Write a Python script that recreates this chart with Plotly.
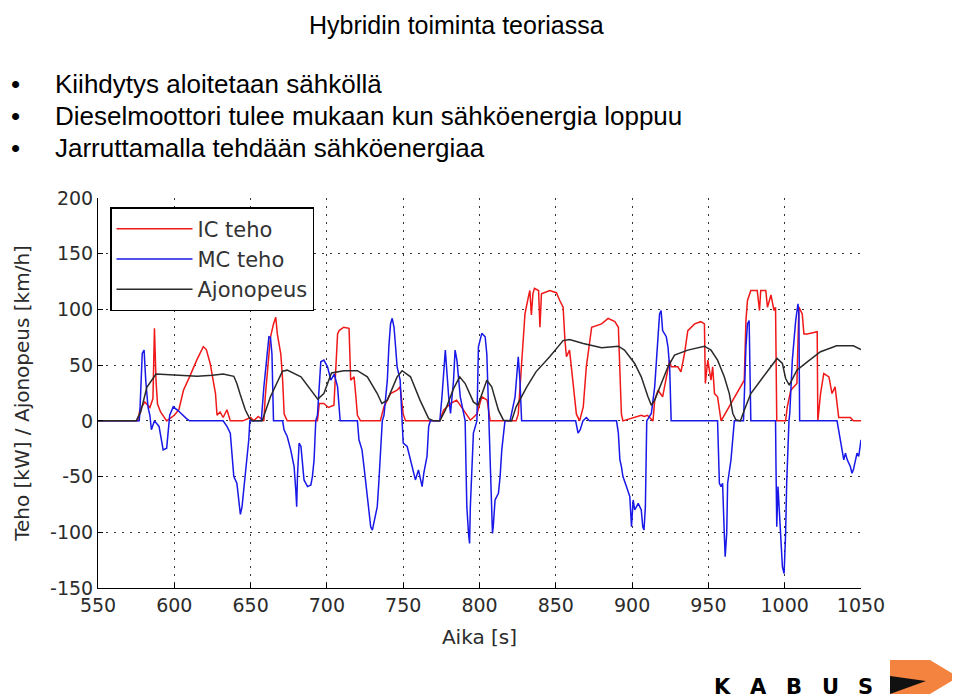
import plotly.graph_objects as go

# --- data (time in s) ---
t_ic = [550, 576, 577.4, 580.7, 584, 586, 587, 588, 589, 591, 595,
        600, 603, 606, 610, 614.7, 619, 621, 623.5, 625.7, 627, 628, 630, 632, 634.5, 636.7,
        645, 650, 652, 655, 658.7,
        659.6, 663, 665, 666.5, 667.5, 669.8, 671, 672, 674,
        693.8, 695, 698, 701, 704.6, 707, 708, 711, 714.5, 715.6, 717.8, 719, 720, 722,
        735, 737.4, 741.7, 746, 748, 750, 751.5,
        774, 776.5, 781, 785, 789.6, 794, 798.3, 801.5, 805, 807,
        824, 825.4, 827.6, 829.8, 832, 833, 834, 835, 836, 838.7, 839.6, 840.6, 846, 850.4,
        852.6, 854.8, 856, 857, 859, 861.3, 863.5, 865.6,
        868, 870, 873.5, 880, 884.3, 888.7, 891, 893, 894,
        906, 908, 910, 913.7,
        914.8, 917, 920, 924.6, 925.6, 930, 932, 934.3, 936.5, 941, 945, 947.4, 948, 949.6,
        951.7, 952.8, 954, 956, 958.3,
        973.5, 974.6, 975.6, 977.8, 979, 982, 983.5, 984.3, 987.6, 988.7, 991, 993, 994, 994.8,
        1000.6, 1001.7, 1004, 1008, 1009.3, 1011.5, 1012.6, 1014.8, 1021.3, 1021.7,
        1023.5, 1025.6, 1029, 1031, 1033, 1034.3, 1035.4, 1043, 1045, 1050]
ic_teho = [0, 0, 9.6, 17, 12, 20, 83, 36.5, 15, 8, 0,
           5, 10, 27.5, 39.5, 54.5, 66.5, 64, 51.5, 36.5, 24.5, 5, 8, 3, 10, 0,
           0, 3, 0, 4, 0,
           21.6, 75, 87, 93, 78, 60, 36.5, 6, 0,
           0, 15.6, 15.6, 12, 14, 78, 81, 84, 83, 36.5, 39.5, 21.6, 5, 0,
           0, 12.6, 24.5, 27.5, 30.5, 6, 0,
           0, 9.6, 15.6, 18.6, 9.6, 0.6, 6, 21.6, 18.6, 0,
           0, 6, 51.5, 96, 111, 117, 95, 114, 119, 117, 84, 114, 117, 115,
           108, 102, 72, 57.5, 63.5, 36.5, 6, 0,
           12.6, 48.5, 84, 87, 92, 89, 84, 6, 0,
           5, 4, 5, 0,
           18.6, 27.5, 21.6, 54.5, 48.5, 48.5, 44, 60, 81, 87, 89, 87, 33.5, 54.5,
           36.5, 48.5, 24.5, 21.6, 0,
           36.5, 90, 108, 117, 117, 117, 99, 117, 117, 102, 113, 99, 102, 0,
           0, 12.6, 27.5, 33.5, 102, 96, 78, 78, 80, 0,
           24.5, 42.5, 39.5, 24.5, 30.5, 12.6, 3, 3, 0, 0]

t_mc = [550, 577, 577.4, 579, 580.2, 581.3, 582.8, 584, 585, 587, 590, 591.6, 592.7, 595, 596, 597,
        599.3, 602.6, 608, 610,
        632, 634.5, 636.7, 637.8, 639, 641, 642.2, 643.3, 644.4, 645.5, 646.6, 647.7, 648.8, 649.5,
        657, 658.7, 661, 662, 663, 664, 665,
        671, 671.9, 674, 676.3, 678.5, 679.6, 680.2, 680.7, 681.8, 683, 684, 685, 687.3, 689.5,
        690.5, 691.6, 692.7,
        693.8, 696, 698, 700.4, 702.6, 704.8, 707, 708.7,
        720, 721, 723, 724.3, 725.4, 726.5, 727.6, 728.7, 729.8, 731, 733, 734, 735.2, 736.3,
        737.4, 739.6, 740.6, 741.7, 742.8, 744, 745, 746, 748, 749.3,
        750, 752.6, 754.8, 757, 758, 760, 762.4, 763.5, 765.6, 766.7, 767.8,
        774, 775.4, 777.6, 778.7, 779.8, 781, 783, 784, 785.2, 787.4, 789.6, 790.6,
        791.2, 791.7, 792.8, 793.5, 794, 795, 796, 798.3,
        799.3, 801.5, 803.7, 804.8, 806,
        806.5, 807.5, 808.5, 809, 810.2, 812.4, 813.5, 814.6, 815.7, 816.7,
        820, 821, 823.3, 825.4, 826.5, 827.6,
        863, 864.6, 866, 867.8, 870, 872,
        889.8, 891, 892, 893, 894, 896.3, 898.5, 899.6, 900.7, 901.7, 904, 906, 907, 907.8,
        908.7, 909.6,
        912.6, 914.8, 916.5, 918, 919, 920, 922.4, 923.5, 924.6, 925.6,
        956, 957.2, 958.3, 959.3, 960.4, 961, 962, 962.6, 964.8, 966, 967,
        973, 973.5, 974.6, 975.6, 976.7, 977.8,
        994, 994.3, 994.8, 995.6, 996.7, 997.4, 998.5, 999.6, 1000.6, 1001.3, 1002.2, 1002.8,
        1003.3, 1005, 1007.2, 1008.7, 1009.3, 1009.8,
        1034.3, 1035.4, 1037.6, 1038.7, 1039.8, 1041, 1043, 1044.1, 1045, 1046.3, 1047.4,
        1048.5, 1049.6, 1050]
mc_teho = [0, 0, 6.6, 60.5, 63.5, 36, 12, 5, -8, 0, -5, -20, -26, -24.5, -11, 5,
           12.6, 9, 2, 0,
           0, -5, -11, -32, -50, -56, -71, -84, -77, -62, -50, -29, -17, 0,
           0, 30.5, 60.5, 75.5, 75, 60, 0,
           0, -8, -14, -26, -41, -62, -77, -50, -20, -23, -41, -53, -59, -57.5,
           -50, -35, 0,
           5, 53, 54.5, 48.5, 36.5, 42, 30.5, 0,
           0, -17, -26, -41, -56, -71, -86, -95, -98, -89, -77, -56, -26, 0,
           5, 36.5, 66.5, 87, 92, 84, 66.5, 48.5, 36.5, 0,
           -20, -23, -35, -47, -53, -44, -59, -47, -32, -5, 0,
           0, 21.6, 63.5, 36.5, 21.6, 6.6, 36.5, 63.5, 54.5, 21.6, 6.6, 0,
           -44, -77, -101, -110, -77, -41, -11, 0,
           66.5, 78.5, 75.5, 60, 0,
           -17, -56, -101, -95, -71, -65, -50, -26, -11, 0,
           0, 6.6, 21.6, 57.5, 36.5, 0,
           0, -11, -8, 0, 3, 0,
           0, -11, -35, -41, -50, -59, -68, -95, -71, -80, -74, -80, -95, -98,
           -77, 0,
           6.6, 30.5, 66.5, 96, 99, 81, 75.5, 66.5, 48.5, 0,
           0, -56, -59, -56, -101, -122, -101, -56, -35, -11, 0,
           0, 21.6, 66.5, 87, 90, 0,
           0, -41, -95, -59, -86, -101, -131, -137, -101, -56, -17, 0,
           6.6, 54.5, 90, 105, 96, 0,
           0, -8, -26, -35, -29, -35, -41, -47, -44, -35, -29,
           -32, -17, -17]

t_speed = [550, 575, 578, 582, 588, 600, 615, 625, 632, 639, 641, 643, 646.5, 649.4, 651,
           657.6, 663, 670.9, 674, 683, 689.5, 694, 698, 703, 711, 720, 726.5, 733, 736,
           739.6, 746, 749.3, 754.8, 761, 766.7, 770, 774, 777.6, 783, 787, 790.6, 796, 799,
           804.8, 808, 812.4, 815.7, 821, 824, 831, 837, 846, 854.8, 859, 868, 876.5, 880,
           891, 895, 901.7, 906, 910.4, 912.6, 914.8, 919, 923.5, 927.8, 936.5, 947.4, 951.7,
           956, 960.4, 963.7, 966, 968, 971, 973.5, 977.8, 984.3, 991, 995, 998.5, 1000.6,
           1003, 1008, 1014.8, 1023.5, 1034, 1045, 1050]
ajonopeus = [0, 0, 8, 30, 42, 41, 40, 41, 42, 40, 33.5, 24.5, 10, 2, 0,
             0, 21.6, 44.6, 45.5, 39.5, 27.5, 19.5, 24.5, 43, 45, 45, 39.5, 24.5, 15.6,
             18.6, 39.5, 45, 39.5, 18.6, 2, 0, 0, 9.6, 29, 39.5, 33.5, 17, 14,
             36.5, 30.5, 9.6, 0.6, 0, 12.6, 30.5, 44, 57.5, 72, 73, 69.5, 66.5, 65.6,
             67, 63.5, 51.5, 39.5, 21.6, 14, 18.6, 33.5, 48.5, 59, 63.5, 67, 63.5,
             54.5, 39.5, 24.5, 6.6, 1, 0, 9.6, 24.5, 36.5, 48.5, 56, 51.5, 38,
             32, 45.5, 53, 62, 67.4, 67.4, 64]

x_ticks = list(range(550, 1051, 50))
y_ticks = list(range(-150, 201, 50))
y_tick_labels = [str(v) for v in y_ticks]  # plain hyphen minus as in the original

title_text = "Hybridin toiminta teoriassa"
bullets = [
    "Kiihdytys aloitetaan sähköllä",
    "Dieselmoottori tulee mukaan kun sähköenergia loppuu",
    "Jarruttamalla tehdään sähköenergiaa",
]

# plot area in page pixels; the page body adds an 8px offset to the figure
OFF = 8
W, H = 960 - OFF, 700 - OFF
L, R, T, B = 98, 861, 198, 588


def px(x):
    return (x - L) / (R - L)


def py(y):
    return (B - y) / (B - T)


fig = go.Figure()
fig.add_trace(go.Scatter(x=t_ic, y=ic_teho, name="IC teho", mode="lines",
                         line=dict(color="#f01818", width=1.5)))
fig.add_trace(go.Scatter(x=t_mc, y=mc_teho, name="MC teho", mode="lines",
                         line=dict(color="#1818e8", width=1.5)))
fig.add_trace(go.Scatter(x=t_speed, y=ajonopeus, name="Ajonopeus", mode="lines",
                         line=dict(color="#2a2a2a", width=1.5)))

axis_font = dict(family="DejaVu Sans", size=19, color="#2b2b2b")
common = dict(
    showgrid=True, gridcolor="#333333", gridwidth=1, griddash="2px,6px",
    showline=True, linecolor="black", linewidth=1, mirror=False,
    ticks="inside", ticklen=5, tickcolor="black", zeroline=False,
    tickfont=axis_font,
)
fig.update_xaxes(range=[550, 1050], tickvals=x_ticks,
                 title=dict(text="Aika [s]", font=dict(family="DejaVu Sans", size=20, color="#2b2b2b")),
                 **common)
fig.update_yaxes(range=[-150, 200], tickvals=y_ticks, ticktext=y_tick_labels,
                 title=dict(text="Teho [kW] / Ajonopeus [km/h]", standoff=15,
                            font=dict(family="DejaVu Sans", size=20, color="#2b2b2b")),
                 **common)

annotations = [dict(text=title_text, x=px(456), y=py(9), xref="paper", yref="paper",
                    showarrow=False, xanchor="center", yanchor="top",
                    font=dict(family="Liberation Sans", size=25, color="black"))]
for i, b in enumerate(bullets):
    yy = py(84 + 32 * i)
    annotations.append(dict(text="•", x=px(9), y=yy, xref="paper", yref="paper",
                            showarrow=False, xanchor="left", yanchor="middle",
                            font=dict(family="Liberation Sans", size=26, color="black")))
    annotations.append(dict(text=b, x=px(53), y=yy, xref="paper", yref="paper",
                            showarrow=False, xanchor="left", yanchor="middle",
                            font=dict(family="Liberation Sans", size=26, color="black")))
for i, ch in enumerate("KABUS"):
    annotations.append(dict(text=ch, x=px(722 + 36 * i), y=py(687), xref="paper", yref="paper",
                            showarrow=False, xanchor="center", yanchor="middle",
                            font=dict(family="DejaVu Sans", size=21, color="black", weight="bold")))

# logo arrow
arrow = [(890, 660), (930, 660), (958, 677), (930, 694), (890, 694)]
wedge = [(890, 676), (890, 694), (926, 681)]


def poly(pts):
    return "M " + " L ".join(f"{px(a):.4f},{py(b):.4f}" for a, b in pts) + " Z"


shapes = [
    dict(type="path", xref="paper", yref="paper", path=poly(arrow),
         fillcolor="#f4833f", line=dict(width=0)),
    dict(type="path", xref="paper", yref="paper", path=poly(wedge),
         fillcolor="#111111", line=dict(width=0)),
]

fig.update_layout(
    width=W, height=H,
    margin=dict(l=L - OFF, r=W - (R - OFF), t=T - OFF, b=H - (B - OFF)),
    paper_bgcolor="white", plot_bgcolor="white",
    showlegend=True,
    legend=dict(x=px(110), y=py(207), xanchor="left", yanchor="top",
                bgcolor="white", bordercolor="black", borderwidth=1.5,
                font=dict(family="DejaVu Sans", size=21, color="#333333"),
                itemwidth=76),
    annotations=annotations,
    shapes=shapes,
)

fig.write_html("out.html")
